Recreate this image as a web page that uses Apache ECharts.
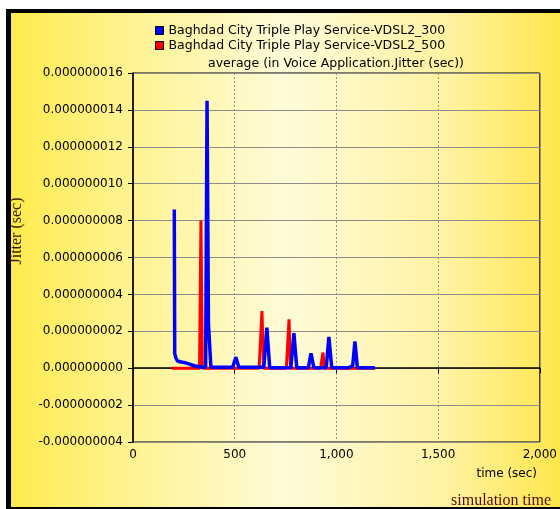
<!DOCTYPE html>
<html>
<head>
<meta charset="utf-8">
<script src="https://cdn.jsdelivr.net/npm/echarts@6/dist/echarts.min.js"></script>
<style>
  html, body { margin: 0; padding: 0; background: #fff; }
  #chart { width: 560px; height: 509px; }
</style>
</head>
<body>
<div id="chart"></div>
<script>
// series names
const seriesNames = [
  "Baghdad City Triple Play Service-VDSL2_300",
  "Baghdad City Triple Play Service-VDSL2_500"
];

// VDSL2_300 (blue): time in sec, jitter in sec
const blueTimes = [203, 205, 211, 218, 231, 256, 270, 305, 344, 357, 364, 371, 383,
  490, 506, 520, 643, 658, 672, 776, 791, 805, 862, 875, 889, 950, 963, 977,
  1060, 1066, 1080, 1091, 1103, 1189];
const blueValues = [8.6e-9, 0.8e-9, 0.55e-9, 0.4e-9, 0.35e-9, 0.3e-9, 0.25e-9, 0.12e-9, 0.05e-9, 0.05e-9, 14.5e-9, 2.4e-9, 0.05e-9,
  0.05e-9, 0.6e-9, 0.05e-9, 0.05e-9, 2.2e-9, 0.03e-9, 0.03e-9, 1.9e-9, 0.03e-9, 0.03e-9, 0.8e-9, 0.03e-9, 0.03e-9, 1.7e-9, 0.03e-9,
  0.03e-9, 0.12e-9, 0.12e-9, 1.45e-9, 0.03e-9, 0.03e-9];

// VDSL2_500 (red)
const redTimes = [192, 327, 334, 341, 620, 627, 634, 642, 754, 760, 767, 774, 922, 928, 934, 941, 1190];
const redValues = [0, 0, 8.0e-9, 0, 0, 0, 3.1e-9, 0, 0, 0, 2.65e-9, 0, 0, 0, 0.85e-9, 0, 0];

// axes
const xTicks = [0, 500, 1000, 1500, 2000];
const yMin = -4e-9, yMax = 16e-9, yStep = 2e-9;

const chart = echarts.init(document.getElementById('chart'));

const pairs = (xs, ys) => xs.map((x, i) => [x, ys[i]]);

const sans = 'DejaVu Sans';

const option = {
  animation: false,
  backgroundColor: '#ffffff',
  graphic: [
    { type: 'rect', z: -10, shape: { x: 6, y: 9, width: 554, height: 500 }, style: { fill: '#000' } },
    {
      type: 'rect', z: -9, shape: { x: 11, y: 13, width: 549, height: 494 },
      style: {
        fill: new echarts.graphic.LinearGradient(0, 0, 1, 0, [
          { offset: 0, color: '#ffea4c' },
          { offset: 0.18, color: '#fff288' },
          { offset: 0.5, color: '#fffbd8' },
          { offset: 0.8, color: '#fff2a0' },
          { offset: 1, color: '#ffe64c' }
        ])
      }
    },
    {
      type: 'text', x: 336, y: 64,
      style: { text: 'average (in Voice Application.Jitter (sec))', font: '12.5px "DejaVu Sans"', fill: '#000', align: 'center', verticalAlign: 'middle' }
    },
    {
      type: 'text', x: 17, y: 231, rotation: Math.PI / 2,
      style: { text: 'Jitter (sec)', font: '16px "Liberation Serif"', fill: '#3a1800', align: 'center', verticalAlign: 'middle' }
    },
    {
      type: 'text', x: 537, y: 474,
      style: { text: 'time (sec)', font: '12px "DejaVu Sans"', fill: '#000', align: 'right', verticalAlign: 'middle' }
    },
    {
      type: 'text', x: 551, y: 501,
      style: { text: 'simulation time', font: '16px "Liberation Serif"', fill: '#5a0808', align: 'right', verticalAlign: 'middle' }
    }
  ],
  legend: {
    orient: 'vertical',
    left: 150,
    top: 19,
    itemWidth: 8,
    itemHeight: 8,
    itemGap: 2,
    icon: 'rect',
    data: seriesNames,
    itemStyle: { borderColor: '#000', borderWidth: 1 },
    textStyle: { fontFamily: sans, fontSize: 12.5, color: '#000' }
  },
  grid: {
    left: 133, right: 20, top: 73, bottom: 67,
    show: true, borderColor: '#000', borderWidth: 1, backgroundColor: 'transparent'
  },
  xAxis: {
    type: 'value',
    min: xTicks[0], max: xTicks[xTicks.length - 1], interval: 500,
    axisLine: { lineStyle: { color: '#000', width: 1.5 } },
    axisTick: { show: true, length: 5, lineStyle: { color: '#000' } },
    axisLabel: {
      fontFamily: sans, fontSize: 12, color: '#000', margin: 7,
      formatter: v => v.toLocaleString('en-US')
    },
    splitLine: { show: true, lineStyle: { color: '#909090', type: [2, 2], width: 1 } }
  },
  yAxis: {
    type: 'value',
    min: yMin, max: yMax, interval: yStep,
    axisLine: { show: true, lineStyle: { color: '#000', width: 1.5 } },
    axisTick: { show: true, length: 5, lineStyle: { color: '#000' } },
    axisLabel: {
      fontFamily: sans, fontSize: 12, color: '#000', margin: 10,
      formatter: v => v.toFixed(9)
    },
    splitLine: { show: true, lineStyle: { color: '#8c8c8c', width: 1 } }
  },
  series: [
    {
      name: seriesNames[0], type: 'line', z: 4, showSymbol: false,
      color: '#0000ff', lineStyle: { width: 3.5, color: '#0000ff' },
      data: pairs(blueTimes, blueValues)
    },
    {
      name: seriesNames[1], type: 'line', z: 3, showSymbol: false,
      color: '#ff0000', lineStyle: { width: 3, color: '#ff0000' },
      data: pairs(redTimes, redValues)
    }
  ]
};

chart.setOption(option);
</script>
</body>
</html>
